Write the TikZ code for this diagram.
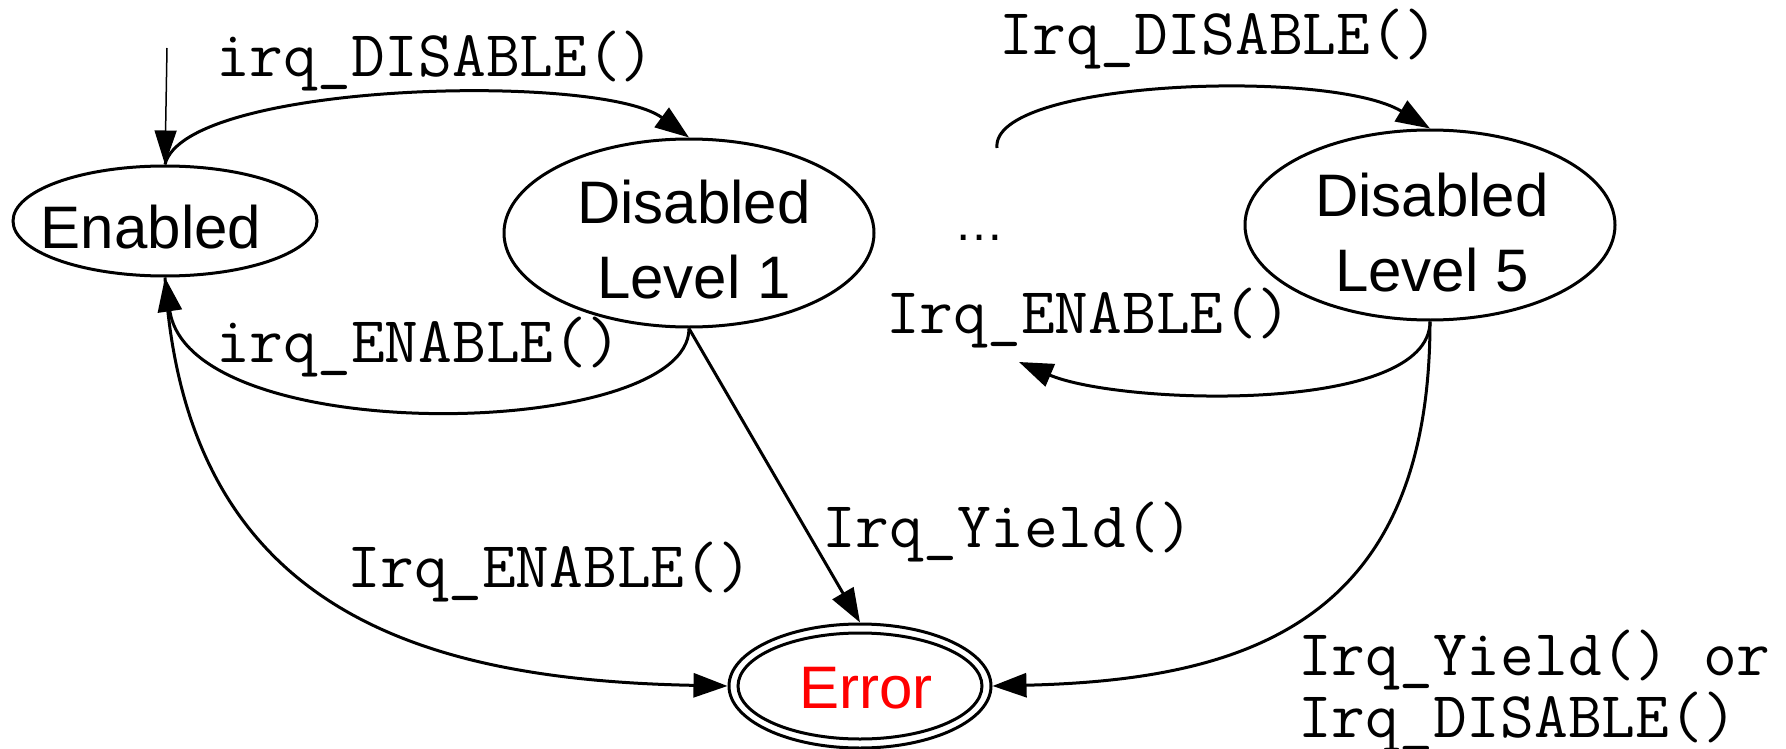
\documentclass[tikz,border=0pt]{standalone}
\usepackage{fontspec}
\setmainfont{Liberation Sans}
\usetikzlibrary{shapes.geometric, arrows.meta}

\begin{document}
\begin{tikzpicture}[x=1pt, y=-1pt,
  state/.style={ellipse, draw, line width=3pt, inner sep=0pt},
  statetext/.style={align=center, inner sep=0pt, font=\fontsize{60}{75}\selectfont},
  trans/.style={line width=3pt, -{Triangle[length=34pt, width=24pt]}},
  lbl/.style={inner sep=0pt, anchor=base west, align=left,
    font=\fontsize{65.5}{62}\selectfont\ttfamily}]
  \useasboundingbox (0,0) rectangle (1786,749);

  % states (text set as centred labels so it can sit a little off the middle)
  \node[state, minimum width=304pt, minimum height=110pt,
    label={[statetext, xshift=-14pt, yshift=-6pt]center:Enabled}] (en) at (165,221) {};
  \node[state, minimum width=370pt, minimum height=188pt,
    label={[statetext, xshift=5pt, yshift=-7pt]center:Disabled\\Level 1}] (d1) at (689,233) {};
  \node[state, minimum width=370pt, minimum height=190pt,
    label={[statetext, xshift=2pt, yshift=-8pt]center:Disabled\\Level 5}] (d5) at (1430,225) {};
  \node[state, minimum width=262pt, minimum height=124pt] (err) at (860,686) {};
  \node[state, minimum width=244pt, minimum height=106pt,
    label={[statetext, text=red, xshift=6pt, yshift=-2pt]center:Error}] (errin) at (860,686) {};
  \node[inner sep=0pt, anchor=base, font=\fontsize{50}{50}\selectfont] (dots) at (979,240) {…};

  % loose ends
  \coordinate (init) at (167,48);
  \coordinate (gapin) at (1019,362);
  \coordinate (gapout) at (997,148);

  % transitions
  \draw[line width=1.5pt, -{Triangle[length=34pt, width=22pt]}] (init) -- (en.north);
  \draw[trans] (en.north) .. controls (185,82) and (600,72) .. (d1.north);
  \draw[trans] (d1.south) .. controls (689,440) and (190,450) .. (en.south);
  \draw[trans] (en.south) .. controls (185,610) and (420,680) .. (err.west);
  \draw[trans] (d1.south) -- (err.north);
  \draw[trans] (gapout) .. controls (990,80) and (1330,68) .. (d5.north);
  \draw[trans] (d5.south) .. controls (1430,415) and (1120,405) .. (gapin);
  \draw[trans] (d5.south) .. controls (1430,620) and (1250,680) .. (err.east);

  % transition labels
  \node[lbl] (l1) at (216,77) {irq\_DISABLE()};
  \node[lbl] (l2) at (999,55) {Irq\_DISABLE()};
  \node[lbl] (l3) at (216,362) {irq\_ENABLE()};
  \node[lbl] (l4) at (886,333) {Irq\_ENABLE()};
  \node[lbl] (l5) at (822,547) {Irq\_Yield()};
  \node[lbl] (l6) at (347,587) {Irq\_ENABLE()};
  \node[lbl] (l7) at (1298,737) {Irq\_Yield() or\\Irq\_DISABLE()};
\end{tikzpicture}
\end{document}
